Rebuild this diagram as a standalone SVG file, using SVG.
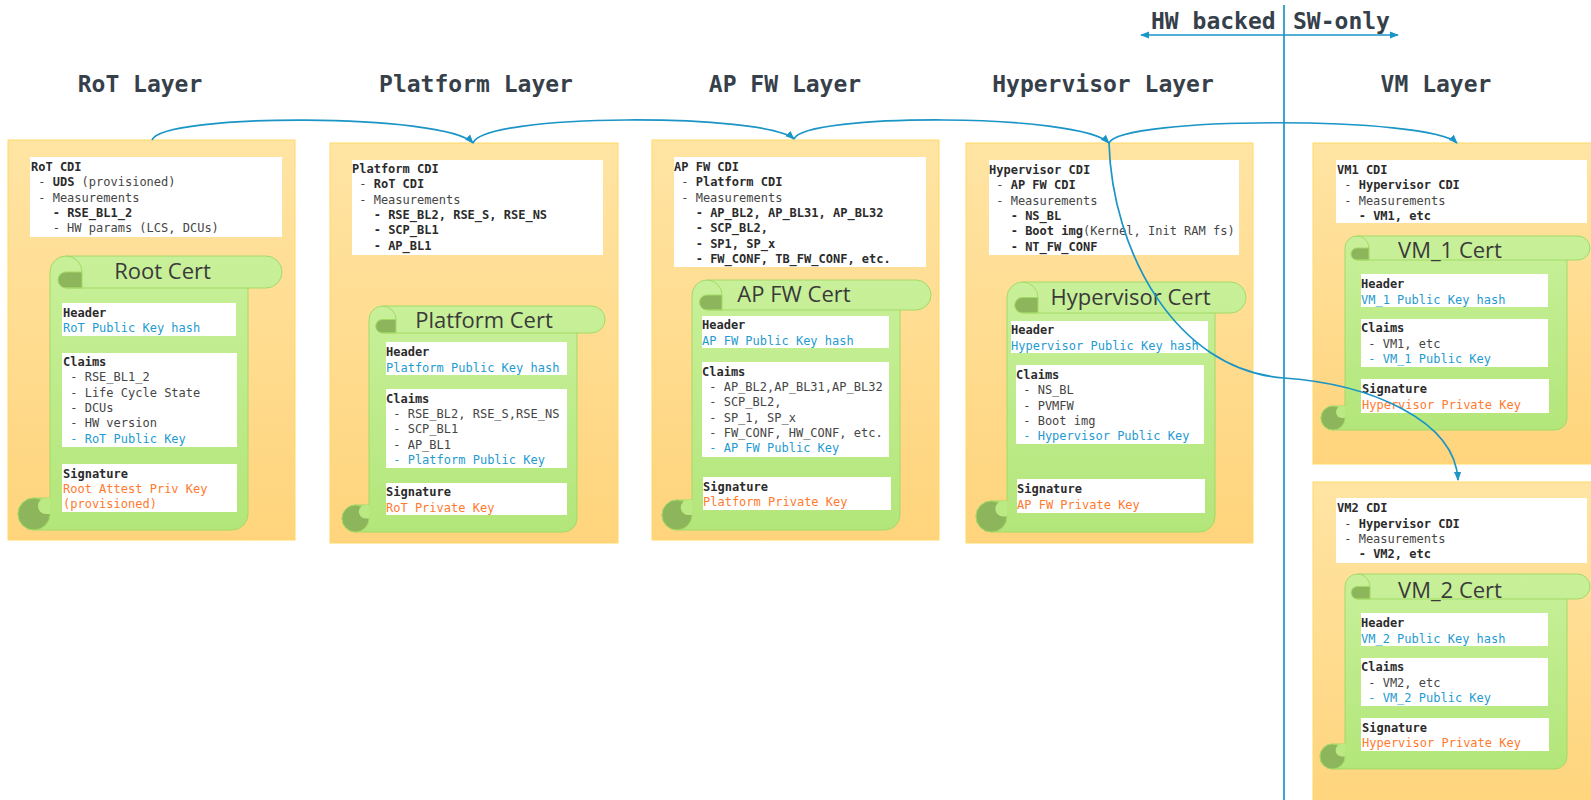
<svg xmlns="http://www.w3.org/2000/svg" width="1591" height="800" viewBox="0 0 1591 800">
<defs>
<linearGradient id="og" x1="0" y1="0" x2="0" y2="1"><stop offset="0" stop-color="#FFE4A3"/><stop offset="1" stop-color="#FFD47C"/></linearGradient>
<linearGradient id="gg" x1="0" y1="0" x2="0" y2="1"><stop offset="0" stop-color="#C8F09A"/><stop offset="1" stop-color="#B3E67A"/></linearGradient>
<marker id="ah" viewBox="0 0 10 10" refX="9" refY="5" markerWidth="9" markerHeight="9" markerUnits="userSpaceOnUse" orient="auto-start-reverse"><path d="M0,1 L10,5 L0,9 Z" fill="#1B95C6"/></marker>
<style>
.box{fill:url(#og);stroke:#FFD966;stroke-width:1}
.wb{fill:#FFFFFF}
.sc{fill:url(#gg);stroke:#A3DA66;stroke-width:1}
.dk{fill:#8DB55C;stroke:#A3DA66;stroke-width:1}
.nt{fill:#BBEA85}
.ln{fill:none;stroke:#A3DA66;stroke-width:1}
.m{font-family:"DejaVu Sans Mono",monospace;font-size:12px;fill:#454545}
.b{font-weight:bold;fill:#2B2B2B}
.bl{fill:#1F9BD1}
.or{fill:#FF7A2E}
.ttl{font-family:"Open Sans",sans-serif;font-size:22px;fill:#3A3A3A;text-anchor:middle}
.lay{font-family:"DejaVu Sans Mono",monospace;font-size:23px;font-weight:bold;fill:#36404A}
.cn{fill:none;stroke:#1B95C6;stroke-width:1.7}
</style>
</defs>
<rect width="1591" height="800" fill="#FFFFFF"/>

<g id="titles">
<text class="lay" x="140" y="92" text-anchor="middle">RoT Layer</text>
<text class="lay" x="476" y="92" text-anchor="middle">Platform Layer</text>
<text class="lay" x="785" y="92" text-anchor="middle">AP FW Layer</text>
<text class="lay" x="1103" y="92" text-anchor="middle">Hypervisor Layer</text>
<text class="lay" x="1436" y="92" text-anchor="middle">VM Layer</text>
<text class="lay" x="1151" y="29">HW backed</text>
<text class="lay" x="1293" y="29">SW-only</text>
</g>

<g id="rot-layer">
<rect class="box" x="8" y="140" width="287" height="400"/>
<rect class="wb" x="30" y="157" width="252" height="80"/>
<text class="m" x="31" y="171" xml:space="preserve"><tspan class="b">RoT CDI</tspan></text>
<text class="m" x="31" y="186.3" xml:space="preserve"> - <tspan class="b">UDS</tspan> (provisioned)</text>
<text class="m" x="31" y="201.6" xml:space="preserve"> - Measurements</text>
<text class="m" x="31" y="216.9" xml:space="preserve">   <tspan class="b">- RSE_BL1_2</tspan></text>
<text class="m" x="31" y="232.2" xml:space="preserve">   - HW params (LCS, DCUs)</text>
<g id="root-cert">
<path class="sc" d="M50,272 A16,16 0 0 1 66,256 L266,256 A16,16 0 0 1 266,288 L248,288 L248,514 A16,16 0 0 1 232,530 L34,530 A16,16 0 0 1 34,498 L50,498 Z"/>
<circle class="dk" cx="34" cy="514" r="16"/>
<path class="nt" d="M50,498 L46,498 A8,8 0 0 0 46,514 L50,514 Z"/>
<path class="dk" d="M82,272 L82,288 L66,288 A8,8 0 0 1 66,272 Z"/>
<path class="ln" d="M66,256 A16,16 0 0 1 82,272 M66,288 L248,288"/>
<text class="ttl" x="162.5" y="279">Root Cert</text>
<rect class="wb" x="62" y="303" width="174" height="33"/>
<text class="m b" x="63" y="317">Header</text>
<text class="m bl" x="63" y="332">RoT Public Key hash</text>
<rect class="wb" x="62" y="353" width="175" height="94"/>
<text class="m b" x="63" y="366">Claims</text>
<text class="m" x="63" y="381.3" xml:space="preserve"> - RSE_BL1_2</text>
<text class="m" x="63" y="396.6" xml:space="preserve"> - Life Cycle State</text>
<text class="m" x="63" y="411.9" xml:space="preserve"> - DCUs</text>
<text class="m" x="63" y="427.2" xml:space="preserve"> - HW version</text>
<text class="m bl" x="63" y="442.5" xml:space="preserve"> - RoT Public Key</text>
<rect class="wb" x="62" y="464" width="175" height="48"/>
<text class="m b" x="63" y="478">Signature</text>
<text class="m or" x="63" y="493">Root Attest Priv Key</text>
<text class="m or" x="63" y="508">(provisioned)</text>
</g>
</g>

<g id="platform-layer">
<rect class="box" x="330" y="143" width="288" height="400"/>
<rect class="wb" x="352" y="160" width="251" height="95"/>
<text class="m b" x="352" y="173">Platform CDI</text>
<text class="m" x="352" y="188.3" xml:space="preserve"> - <tspan class="b">RoT CDI</tspan></text>
<text class="m" x="352" y="203.6" xml:space="preserve"> - Measurements</text>
<text class="m" x="352" y="218.9" xml:space="preserve">   <tspan class="b">- RSE_BL2, RSE_S, RSE_NS</tspan></text>
<text class="m" x="352" y="234.2" xml:space="preserve">   <tspan class="b">- SCP_BL1</tspan></text>
<text class="m" x="352" y="249.5" xml:space="preserve">   <tspan class="b">- AP_BL1</tspan></text>
<g id="platform-cert">
<path class="sc" d="M369,319.5 A13.5,13.5 0 0 1 382.5,306 L591.5,306 A13.5,13.5 0 0 1 591.5,333 L577,333 L577,518.5 A13.5,13.5 0 0 1 563.5,532 L355.5,532 A13.5,13.5 0 0 1 355.5,505 L369,505 Z"/>
<circle class="dk" cx="355.5" cy="518.5" r="13.5"/>
<path class="nt" d="M369,505 L365.6,505 A6.75,6.75 0 0 0 365.6,518.5 L369,518.5 Z"/>
<path class="dk" d="M396,319.5 L396,333 L382.5,333 A6.75,6.75 0 0 1 382.5,319.5 Z"/>
<path class="ln" d="M382.5,306 A13.5,13.5 0 0 1 396,319.5 M382.5,333 L577,333"/>
<text class="ttl" x="484" y="328.3">Platform Cert</text>
<rect class="wb" x="386" y="342" width="181" height="33"/>
<text class="m b" x="386" y="356">Header</text>
<text class="m bl" x="386" y="371.5">Platform Public Key hash</text>
<rect class="wb" x="386" y="389" width="181" height="79"/>
<text class="m b" x="386" y="402.7">Claims</text>
<text class="m" x="386" y="418" xml:space="preserve"> - RSE_BL2, RSE_S,RSE_NS</text>
<text class="m" x="386" y="433.3" xml:space="preserve"> - SCP_BL1</text>
<text class="m" x="386" y="448.6" xml:space="preserve"> - AP_BL1</text>
<text class="m bl" x="386" y="463.9" xml:space="preserve"> - Platform Public Key</text>
<rect class="wb" x="386" y="483" width="181" height="32"/>
<text class="m b" x="386" y="496">Signature</text>
<text class="m or" x="386" y="511.7">RoT Private Key</text>
</g>
</g>

<g id="apfw-layer">
<rect class="box" x="652" y="140" width="287" height="400"/>
<rect class="wb" x="674" y="157" width="252" height="110"/>
<text class="m b" x="674" y="171">AP FW CDI</text>
<text class="m" x="674" y="186.3" xml:space="preserve"> - <tspan class="b">Platform CDI</tspan></text>
<text class="m" x="674" y="201.6" xml:space="preserve"> - Measurements</text>
<text class="m" x="674" y="216.9" xml:space="preserve">   <tspan class="b">- AP_BL2, AP_BL31, AP_BL32</tspan></text>
<text class="m" x="674" y="232.2" xml:space="preserve">   <tspan class="b">- SCP_BL2,</tspan></text>
<text class="m" x="674" y="247.5" xml:space="preserve">   <tspan class="b">- SP1, SP_x</tspan></text>
<text class="m" x="674" y="262.8" xml:space="preserve">   <tspan class="b">- FW_CONF, TB_FW_CONF, etc.</tspan></text>
<g id="apfw-cert">
<path class="sc" d="M692,295 A15,15 0 0 1 707,280 L916,280 A15,15 0 0 1 916,310 L900,310 L900,515 A15,15 0 0 1 885,530 L677,530 A15,15 0 0 1 677,500 L692,500 Z"/>
<circle class="dk" cx="677" cy="515" r="15"/>
<path class="nt" d="M692,500 L688.25,500 A7.5,7.5 0 0 0 688.25,515 L692,515 Z"/>
<path class="dk" d="M722,295 L722,310 L707,310 A7.5,7.5 0 0 1 707,295 Z"/>
<path class="ln" d="M707,280 A15,15 0 0 1 722,295 M707,310 L900,310"/>
<text class="ttl" x="794" y="302.3">AP FW Cert</text>
<rect class="wb" x="702" y="316" width="187" height="32"/>
<text class="m b" x="702" y="329">Header</text>
<text class="m bl" x="702" y="345">AP FW Public Key hash</text>
<rect class="wb" x="702" y="362" width="187" height="95"/>
<text class="m b" x="702" y="375.7">Claims</text>
<text class="m" x="702" y="391" xml:space="preserve"> - AP_BL2,AP_BL31,AP_BL32</text>
<text class="m" x="702" y="406.3" xml:space="preserve"> - SCP_BL2,</text>
<text class="m" x="702" y="421.6" xml:space="preserve"> - SP_1, SP_x</text>
<text class="m" x="702" y="436.9" xml:space="preserve"> - FW_CONF, HW_CONF, etc.</text>
<text class="m bl" x="702" y="452.2" xml:space="preserve"> - AP FW Public Key</text>
<rect class="wb" x="703" y="477" width="188" height="33"/>
<text class="m b" x="703" y="490.7">Signature</text>
<text class="m or" x="703" y="506">Platform Private Key</text>
</g>
</g>

<g id="hypervisor-layer">
<rect class="box" x="966" y="143" width="287" height="400"/>
<rect class="wb" x="989" y="160" width="250" height="95"/>
<text class="m b" x="989" y="174">Hypervisor CDI</text>
<text class="m" x="989" y="189.3" xml:space="preserve"> - <tspan class="b">AP FW CDI</tspan></text>
<text class="m" x="989" y="204.6" xml:space="preserve"> - Measurements</text>
<text class="m" x="989" y="219.9" xml:space="preserve">   <tspan class="b">- NS_BL</tspan></text>
<text class="m" x="989" y="235.2" xml:space="preserve">   <tspan class="b">- Boot img</tspan>(Kernel, Init RAM fs)</text>
<text class="m" x="989" y="250.5" xml:space="preserve">   <tspan class="b">- NT_FW_CONF</tspan></text>
<g id="hypervisor-cert">
<path class="sc" d="M1007,297.5 A15.5,15.5 0 0 1 1022.5,282 L1230.5,282 A15.5,15.5 0 0 1 1230.5,313 L1215,313 L1215,516.5 A15.5,15.5 0 0 1 1199.5,532 L991.5,532 A15.5,15.5 0 0 1 991.5,501 L1007,501 Z"/>
<circle class="dk" cx="991.5" cy="516.5" r="15.5"/>
<path class="nt" d="M1007,501 L1003.1,501 A7.75,7.75 0 0 0 1003.1,516.5 L1007,516.5 Z"/>
<path class="dk" d="M1038,297.5 L1038,313 L1022.5,313 A7.75,7.75 0 0 1 1022.5,297.5 Z"/>
<path class="ln" d="M1022.5,282 A15.5,15.5 0 0 1 1038,297.5 M1022.5,313 L1215,313"/>
<text class="ttl" x="1130.5" y="305">Hypervisor Cert</text>
<rect class="wb" x="1011" y="321" width="197" height="32"/>
<text class="m b" x="1011" y="334.3">Header</text>
<text class="m bl" x="1011" y="350">Hypervisor Public Key hash</text>
<rect class="wb" x="1016" y="365" width="188" height="79"/>
<text class="m b" x="1016" y="379">Claims</text>
<text class="m" x="1016" y="394.3" xml:space="preserve"> - NS_BL</text>
<text class="m" x="1016" y="409.6" xml:space="preserve"> - PVMFW</text>
<text class="m" x="1016" y="424.9" xml:space="preserve"> - Boot img</text>
<text class="m bl" x="1016" y="440.2" xml:space="preserve"> - Hypervisor Public Key</text>
<rect class="wb" x="1017" y="479" width="188" height="34"/>
<text class="m b" x="1017" y="493.3">Signature</text>
<text class="m or" x="1017" y="509.3">AP FW Private Key</text>
</g>
</g>

<g id="vm1-layer">
<rect class="box" x="1313" y="143" width="290" height="321"/>
<rect class="wb" x="1336" y="160" width="251" height="63"/>
<text class="m b" x="1337" y="174">VM1 CDI</text>
<text class="m" x="1337" y="189.3" xml:space="preserve"> - <tspan class="b">Hypervisor CDI</tspan></text>
<text class="m" x="1337" y="204.6" xml:space="preserve"> - Measurements</text>
<text class="m" x="1337" y="219.9" xml:space="preserve">   <tspan class="b">- VM1, etc</tspan></text>
<g id="vm1-cert">
<path class="sc" d="M1345,248 A12,12 0 0 1 1357,236 L1578,236 A12,12 0 0 1 1578,260 L1567,260 L1567,418 A12,12 0 0 1 1555,430 L1333,430 A12,12 0 0 1 1333,406 L1345,406 Z"/>
<circle class="dk" cx="1333" cy="418" r="12"/>
<path class="nt" d="M1345,406 L1342,406 A6,6 0 0 0 1342,418 L1345,418 Z"/>
<path class="dk" d="M1369,248 L1369,260 L1357,260 A6,6 0 0 1 1357,248 Z"/>
<path class="ln" d="M1357,236 A12,12 0 0 1 1369,248 M1357,260 L1567,260"/>
<text class="ttl" x="1450" y="258.3">VM_1 Cert</text>
<rect class="wb" x="1361" y="274" width="187" height="33"/>
<text class="m b" x="1361" y="288.3">Header</text>
<text class="m bl" x="1361" y="304">VM_1 Public Key hash</text>
<rect class="wb" x="1361" y="319" width="187" height="48"/>
<text class="m b" x="1361" y="332.3">Claims</text>
<text class="m" x="1361" y="347.6" xml:space="preserve"> - VM1, etc</text>
<text class="m bl" x="1361" y="362.9" xml:space="preserve"> - VM_1 Public Key</text>
<rect class="wb" x="1361" y="379" width="188" height="34"/>
<text class="m b" x="1362" y="393.3">Signature</text>
<text class="m or" x="1362" y="408.7">Hypervisor Private Key</text>
</g>
</g>

<g id="vm2-layer">
<rect class="box" x="1313" y="482" width="290" height="330"/>
<rect class="wb" x="1336" y="498" width="251" height="65"/>
<text class="m b" x="1337" y="512.3">VM2 CDI</text>
<text class="m" x="1337" y="527.6" xml:space="preserve"> - <tspan class="b">Hypervisor CDI</tspan></text>
<text class="m" x="1337" y="542.9" xml:space="preserve"> - Measurements</text>
<text class="m" x="1337" y="558.2" xml:space="preserve">   <tspan class="b">- VM2, etc</tspan></text>
<g id="vm2-cert">
<path class="sc" d="M1345,586.5 A12.5,12.5 0 0 1 1357.5,574 L1577.5,574 A12.5,12.5 0 0 1 1577.5,599 L1567,599 L1567,756.5 A12.5,12.5 0 0 1 1554.5,769 L1332.5,769 A12.5,12.5 0 0 1 1332.5,744 L1345,744 Z"/>
<circle class="dk" cx="1332.5" cy="756.5" r="12.5"/>
<path class="nt" d="M1345,744 L1341.9,744 A6.25,6.25 0 0 0 1341.9,756.5 L1345,756.5 Z"/>
<path class="dk" d="M1370,586.5 L1370,599 L1357.5,599 A6.25,6.25 0 0 1 1357.5,586.5 Z"/>
<path class="ln" d="M1357.5,574 A12.5,12.5 0 0 1 1370,586.5 M1357.5,599 L1567,599"/>
<text class="ttl" x="1450" y="597.7">VM_2 Cert</text>
<rect class="wb" x="1361" y="613" width="187" height="33"/>
<text class="m b" x="1361" y="627.3">Header</text>
<text class="m bl" x="1361" y="642.7">VM_2 Public Key hash</text>
<rect class="wb" x="1361" y="658" width="187" height="48"/>
<text class="m b" x="1361" y="671.3">Claims</text>
<text class="m" x="1361" y="686.6" xml:space="preserve"> - VM2, etc</text>
<text class="m bl" x="1361" y="701.9" xml:space="preserve"> - VM_2 Public Key</text>
<rect class="wb" x="1361" y="718" width="188" height="33"/>
<text class="m b" x="1362" y="731.7">Signature</text>
<text class="m or" x="1362" y="747.3">Hypervisor Private Key</text>
</g>
</g>

<g id="connectors">
<path class="cn" d="M1284,5 L1284,800"/>
<path class="cn" d="M1141,35 L1398,35" marker-start="url(#ah)" marker-end="url(#ah)"/>
<path class="cn" d="M152,140 C162,113 445,113 473,143" marker-end="url(#ah)"/>
<path class="cn" d="M473,143 C483,113 765,113 794,139" marker-end="url(#ah)"/>
<path class="cn" d="M794,139 C804,113 1080,113 1109,143" marker-end="url(#ah)"/>
<path class="cn" d="M1109,143 C1120,116 1430,116 1457,143" marker-end="url(#ah)"/>
<path class="cn" d="M1109,143 C1112,250 1175,370 1284,378 C1370,384 1455,420 1458,480" marker-end="url(#ah)"/>
</g>
</svg>
